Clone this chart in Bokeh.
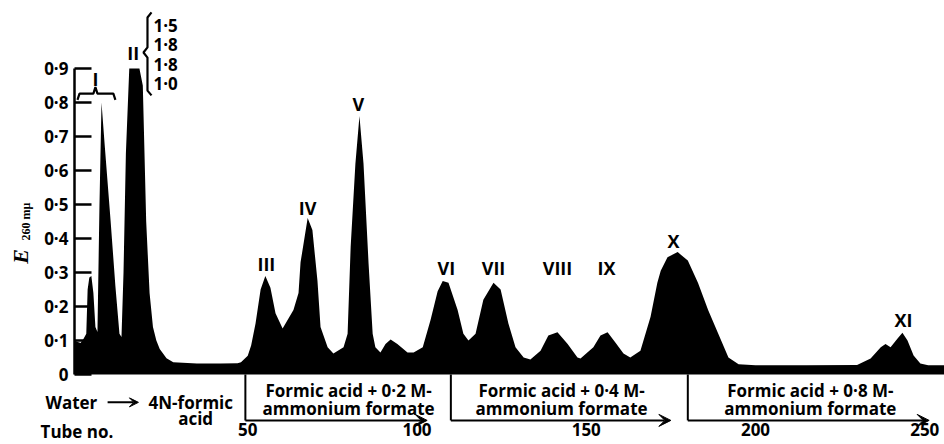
import numpy as np
from bokeh.plotting import figure
from bokeh.models import Range1d, FixedTicker, CustomJSTickFormatter, Label, Arrow, VeeHead
from bokeh.core.properties import value
from bokeh.embed import file_html
from bokeh.resources import INLINE

# ---------------- data ----------------
tube = [
    -1.2, 0, 0.6, 1.5, 2.3, 2.7, 3.2, 3.8, 4.4, 5.0,
    5.6, 6.2, 6.8, 7.7, 9.5, 10.9, 12.1, 12.7, 13.3, 14,
    15, 16, 17, 18, 19, 20, 21, 22, 23, 24,
    26, 28, 35, 42, 47, 48, 50, 51, 52.3, 53.8,
    55.2, 56.7, 58.2, 60.3, 63.5, 65, 65.6, 67.7, 69.1, 70.6,
    71.5, 73.6, 75.3, 78.3, 79.5, 80.4, 81.8, 83, 84.2, 85.7,
    86.9, 87.7, 89.2, 90.7, 92.2, 94.2, 97.2, 99, 101.7, 104,
    106.1, 107.6, 109.3, 112, 113.7, 115.2, 117.3, 119.6, 122.6, 124.7,
    127, 129.1, 131.5, 133.5, 136.5, 138.8, 141.5, 144.5, 147.4, 148.3,
    152.1, 154.2, 156.3, 158.6, 161, 163, 166, 169, 171, 172,
    174, 177, 180, 183, 186, 189, 192, 195, 200, 215,
    230, 234, 237, 238.4, 239.9, 241.9, 243.4, 244.9, 246.7, 248.7,
    251, 256]
a260 = [
    0.10, 0.095, 0.093, 0.105, 0.12, 0.25, 0.285, 0.29, 0.24, 0.14,
    0.125, 0.5, 0.8, 0.68, 0.45, 0.26, 0.12, 0.11, 0.3, 0.65,
    1.5, 1.8, 1.8, 1.0, 0.85, 0.45, 0.24, 0.14, 0.1, 0.075,
    0.048, 0.036, 0.032, 0.032, 0.033, 0.036, 0.055, 0.085, 0.15, 0.25,
    0.29, 0.255, 0.18, 0.135, 0.19, 0.24, 0.33, 0.46, 0.425, 0.275,
    0.14, 0.08, 0.062, 0.08, 0.12, 0.375, 0.62, 0.76, 0.62, 0.325,
    0.12, 0.08, 0.065, 0.09, 0.103, 0.09, 0.065, 0.065, 0.08, 0.16,
    0.245, 0.275, 0.27, 0.19, 0.12, 0.1, 0.12, 0.22, 0.27, 0.25,
    0.15, 0.08, 0.05, 0.044, 0.07, 0.115, 0.124, 0.09, 0.05, 0.047,
    0.08, 0.115, 0.124, 0.094, 0.062, 0.05, 0.07, 0.17, 0.27, 0.305,
    0.345, 0.36, 0.335, 0.27, 0.19, 0.12, 0.05, 0.03, 0.027, 0.027,
    0.028, 0.047, 0.08, 0.09, 0.08, 0.105, 0.123, 0.1, 0.056, 0.032,
    0.027, 0.027]
scale_max = 0.9

peak_names = ["I", "II", "III", "IV", "V", "VI", "VII", "VIII", "IX", "X", "XI"]
peak_label_tube = [5.0, 16.2, 55.5, 67.7, 82.7, 108.7, 122.6, 141.5, 156.0, 175.8, 243.7]
peak_label_level = [0.87, 0.947, 0.324, 0.49, 0.797, 0.312, 0.312, 0.312, 0.312, 0.394, 0.159]

y_ticks = [0, 0.1, 0.2, 0.3, 0.4, 0.5, 0.6, 0.7, 0.8, 0.9]
x_ticks = [50, 100, 150, 200, 250]

eluent_start = [49.3, 110.0, 180.0]
eluent_arrow_end = [103.0, 175.0, 251.3]
eluent_text_center = [79.8, 142.7, 216.2]
eluent_line1 = ["Formic acid + 0·2 M-", "Formic acid + 0·4 M-", "Formic acid + 0·8 M-"]
eluent_line2 = ["ammonium formate", "ammonium formate", "ammonium formate"]

FONT = "Open Sans"

# ---------------- figure ----------------
p = figure(width=944, height=444, output_backend="svg", toolbar_location=None,
           x_range=Range1d(-23.04, 255.83), y_range=Range1d(-0.2059, 1.1),
           min_border_left=0, min_border_right=0, min_border_top=0, min_border_bottom=0)
p.grid.visible = False
p.outline_line_color = None
p.background_fill_color = "white"
p.border_fill_color = "white"

t = np.array(tube)
a = np.array(a260)
p.varea(x=t, y1=np.zeros(len(t)), y2=np.minimum(a, scale_max), fill_color="black")

# y axis (drawn at the first tube)
ya = p.yaxis[0]
ya.fixed_location = tube[0]
ya.ticker = FixedTicker(ticks=y_ticks)
ya.bounds = (0, 0.9)
ya.formatter = CustomJSTickFormatter(code="return tick === 0 ? '0' : tick.toFixed(1).replace('.', '\u00b7');")
ya.major_tick_in = 17
ya.major_tick_out = 0
ya.minor_tick_in = 0
ya.minor_tick_out = 0
ya.axis_line_width = 2.5
ya.major_tick_line_width = 2.5
ya.major_label_standoff = 6
ya.major_label_text_font = FONT
ya.major_label_text_font_style = "bold"
ya.major_label_text_font_size = "17px"
ya.major_label_text_color = "black"

# x axis (tube numbers under the eluent boxes)
xa = p.xaxis[0]
xa.fixed_location = -0.138
xa.ticker = FixedTicker(ticks=x_ticks)
xa.axis_line_color = None
xa.major_tick_line_color = None
xa.minor_tick_line_color = None
xa.major_tick_in = 0
xa.major_tick_out = 0
xa.major_label_standoff = 2
xa.major_label_text_font = FONT
xa.major_label_text_font_style = "bold"
xa.major_label_text_font_size = "17px"
xa.major_label_text_color = "black"

# peak labels
p.text(x=peak_label_tube, y=peak_label_level, text=peak_names,
       text_font=value(FONT), text_font_style="bold", text_font_size="18px",
       text_align="center", text_baseline="middle", text_color="black")

# brace over peak I
p.line(x=[-0.3, 0.3, 4.4, 5.0, 5.6, 10.3, 10.9],
       y=[0.808, 0.826, 0.826, 0.845, 0.826, 0.826, 0.808], line_width=2.2, color="black")
# brace beside peak II
p.line(x=[21.57, 20.38, 20.38, 19.2, 20.38, 20.38, 21.57],
       y=[1.065, 1.05, 0.962, 0.947, 0.932, 0.835, 0.821], line_width=2.2, color="black")

# off-scale readings of peak II
off_scale = [v for v in a260 if v > scale_max]
off_txt = [f"{v:.1f}".replace(".", "·") for v in off_scale]
p.text(x=[22.16] * len(off_txt), y=[1.026 - 0.0565 * i for i in range(len(off_txt))], text=off_txt,
       text_font=value(FONT), text_font_style="bold", text_font_size="17px", text_align="left",
       text_baseline="middle", text_color="black")

# eluent boxes
for s, e, c, l1, l2 in zip(eluent_start, eluent_arrow_end, eluent_text_center, eluent_line1, eluent_line2):
    p.add_layout(Arrow(x_start=s, y_start=0, x_end=s, y_end=-0.135, end=None, start=None,
                       line_width=2, line_color="black"))
    p.add_layout(Arrow(x_start=s, y_start=-0.135, x_end=e, y_end=-0.135, start=None,
                       end=VeeHead(size=12, fill_color="black", line_color="black", line_width=1),
                       line_width=2, line_color="black"))
    p.add_layout(Label(x=c, y=-0.047, text=l1, text_font=FONT, text_font_style="bold",
                       text_font_size="17px", text_align="center", text_baseline="middle",
                       text_color="black"))
    p.add_layout(Label(x=c, y=-0.100, text=l2, text_font=FONT, text_font_style="bold",
                       text_font_size="17px", text_align="center", text_baseline="middle",
                       text_color="black"))

# water -> 4N formic acid
p.add_layout(Label(x=-9.75, y=-0.082, text="Water", text_font=FONT, text_font_style="bold",
                   text_font_size="17px", text_align="left", text_baseline="middle", text_color="black"))
p.add_layout(Arrow(x_start=8.6, y_start=-0.082, x_end=17.7, y_end=-0.082, start=None,
                   end=VeeHead(size=9, fill_color="black", line_color="black", line_width=1),
                   line_width=2, line_color="black"))
p.add_layout(Label(x=20.7, y=-0.082, text="4N-formic", text_font=FONT, text_font_style="bold",
                   text_font_size="17px", text_align="left", text_baseline="middle", text_color="black"))
p.add_layout(Label(x=34.6, y=-0.129, text="acid", text_font=FONT, text_font_style="bold",
                   text_font_size="17px", text_align="center", text_baseline="middle", text_color="black"))
p.add_layout(Label(x=-11.2, y=-0.1676, text="Tube no.", text_font=FONT, text_font_style="bold",
                   text_font_size="17px", text_align="left", text_baseline="middle", text_color="black"))

# y axis title  E_{260 mμ}
p.add_layout(Label(x=-17.1, y=0.347, text="E", angle=np.pi / 2, text_font="Liberation Serif",
                   text_font_style="bold italic", text_font_size="22px",
                   text_align="center", text_baseline="middle", text_color="black"))
p.add_layout(Label(x=-15.6, y=0.45, text="260 mμ", angle=np.pi / 2, text_font="Liberation Serif",
                   text_font_style="bold", text_font_size="12px",
                   text_align="center", text_baseline="middle", text_color="black"))

open("out.html", "w").write(file_html(p, INLINE))
